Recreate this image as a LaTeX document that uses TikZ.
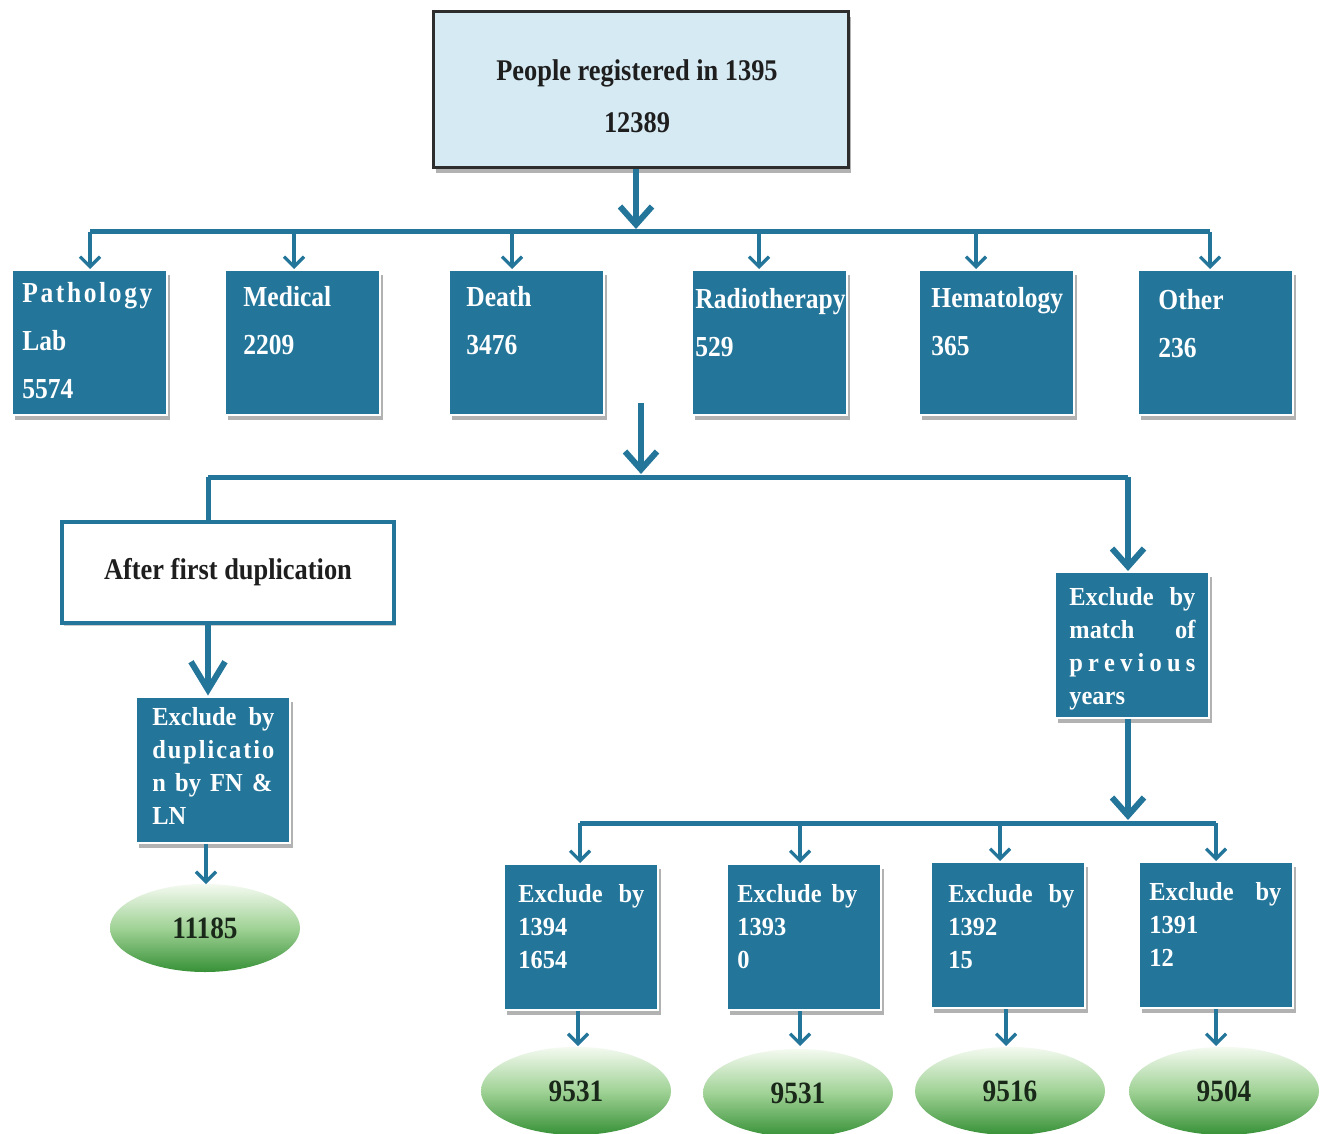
\documentclass[tikz,border=0pt]{standalone}
\usepackage{fontspec}
\setmainfont{Liberation Serif}
\newfontfamily\cond{Liberation Serif}[FakeStretch=0.88]
\newfontfamily\semicond{Liberation Serif}[FakeStretch=0.94]
\usetikzlibrary{arrows.meta,shadows,shapes.geometric}
\definecolor{tealbox}{RGB}{35,117,153}
\definecolor{paleblue}{RGB}{214,234,243}
\definecolor{darkframe}{RGB}{45,45,45}
\definecolor{inkdark}{RGB}{30,30,30}
\definecolor{leafink}{RGB}{25,40,25}
\definecolor{leafpale}{RGB}{244,250,240}
\definecolor{leafmid}{RGB}{160,210,150}
\definecolor{leafgreen}{RGB}{55,145,55}
\newcommand{\fillline}[1]{\makebox[63pt][s]{#1}}
\begin{document}
\begin{tikzpicture}[x=0.5pt,y=-0.5pt,
  shade/.style={drop shadow={shadow xshift=1.5pt,shadow yshift=-2.5pt,opacity=0.3,fill=black}},
  box/.style={draw=white,line width=1pt,fill=tealbox,inner sep=0pt,shade},
  catbox/.style={box,minimum width=77.5pt,minimum height=72.5pt},
  exbox/.style={box,minimum width=77pt,minimum height=73pt},
  cattext/.style={anchor=north west,inner sep=0pt,align=left,text=white,
    font=\cond\bfseries\fontsize{14.5}{24}\selectfont},
  extext/.style={anchor=north west,inner sep=0pt,align=left,text=white,
    font=\semicond\bfseries\fontsize{13}{16.5}\selectfont},
  leaf/.style={ellipse,minimum width=95pt,minimum height=44pt,inner sep=0pt,
    top color=leafpale,bottom color=leafgreen,middle color=leafmid,
    text=leafink,font=\cond\bfseries\fontsize{15.5}{17}\selectfont},
  bus/.style={draw=tealbox,line width=2.5pt},
  tap/.style={draw=tealbox,line width=1.6pt,-{Straight Barb[length=5pt,width=10pt]}},
  bigarrow/.style={draw=tealbox,line width=3pt,-{Straight Barb[length=9pt,width=16pt]}}
]
\useasboundingbox[fill=white] (0,0) rectangle (1322,1134);

% registration total
\node[draw=darkframe,line width=1.5pt,fill=paleblue,minimum width=207.5pt,minimum height=78pt,
  inner sep=0pt,shade] (top) at (640.5,90) {};
\node[align=center,text=inkdark,font=\cond\bfseries\fontsize{15}{26}\selectfont] (toptext) at (637,96)
  {People registered in 1395\\12389};

% sources
\node[catbox] (c1) at (89.5,342.5) {};
\node[catbox] (c2) at (302.5,342.5) {};
\node[catbox] (c3) at (526,342.5) {};
\node[catbox] (c4) at (769.5,342.5) {};
\node[catbox] (c5) at (996.5,342.5) {};
\node[catbox] (c6) at (1215.5,342.5) {};
\node[cattext] (c1t) at (22,282) {\makebox[65pt]{P\hfill a\hfill t\hfill h\hfill o\hfill l\hfill o\hfill g\hfill y}\\Lab\\5574};
\node[cattext] (c2t) at (243,286) {Medical\\2209};
\node[cattext] (c3t) at (466,286) {Death\\3476};
\node[cattext] (c4t) at (695,288) {Radiotherapy\\529};
\node[cattext] (c5t) at (931,287) {Hematology\\365};
\node[cattext] (c6t) at (1158,289) {Other\\236};

% first bus
\coordinate (t1) at (90,232);
\coordinate (t2) at (294,232);
\coordinate (t3) at (512,232);
\coordinate (t4) at (759,232);
\coordinate (t5) at (976,232);
\coordinate (t6) at (1210,232);
\draw[bus] (t1) -- (t6);
\draw[bigarrow] (top.south -| 636,0) -- (636,229);
\foreach \i in {1,...,6} \draw[tap] (t\i) -- (t\i |- c\i.north);

% second bus
\coordinate (m0) at (641,403);
\coordinate (m1) at (641,474);
\coordinate (bl) at (208,477);
\coordinate (br) at (1128,477);
\draw[bigarrow] (m0) -- (m1);
\draw[bus] (bl) -- (br);

% duplication branch
\node[draw=tealbox,line width=2pt,fill=white,minimum width=166pt,minimum height=50.5pt,inner sep=0pt,
  drop shadow={shadow xshift=1pt,shadow yshift=-1.5pt,opacity=0.2,fill=black},
  text=inkdark,font=\cond\bfseries\fontsize{15}{17}\selectfont] (after) at (228,572.5) {After first duplication};
\node[exbox] (dup) at (213,769.5) {};
\node[extext] (dupt) at (152,707) {\makebox[61pt][s]{Exclude by}\\\makebox[61pt]{d\hfill u\hfill p\hfill l\hfill i\hfill c\hfill a\hfill t\hfill i\hfill o}\\\makebox[60pt][s]{n by FN \&}\\LN};
\node[leaf] (e0) at (205,928) {11185};
\draw[bus] (bl) -- (bl |- after.north);
\draw[draw=tealbox,line width=3pt,-{Straight Barb[length=14pt,width=17pt]}] (bl |- after.south) -- (bl |- dup.north);
\draw[tap] (dup.south -| 206,0) -- (206,884);

% previous-years branch
\node[exbox] (match) at (1132,645) {};
\node[extext] (matcht) at (1069,587) {\fillline{Exclude by}\\\fillline{match of}\\\fillline{p r e v i o u s}\\years};
\draw[bigarrow] (br) -- (br |- match.north);

\coordinate (s1) at (580,823);
\coordinate (s2) at (800,823);
\coordinate (s3) at (1000,823);
\coordinate (s4) at (1216,823);
\draw[bigarrow] (br |- match.south) -- (1128,820);
\draw[bus] (s1) -- (s4);

\node[exbox] (x1) at (581,937) {};
\node[exbox] (x2) at (803.5,937) {};
\node[exbox] (x3) at (1007.5,935) {};
\node[exbox] (x4) at (1215.5,935) {};
\node[extext] (x1t) at (518,884) {\fillline{Exclude by}\\1394\\1654};
\node[extext] (x2t) at (737,884) {\makebox[60pt][s]{Exclude by}\\1393\\0};
\node[extext] (x3t) at (948,884) {\fillline{Exclude by}\\1392\\15};
\node[extext] (x4t) at (1149,882) {\makebox[66pt][s]{Exclude by}\\1391\\12};
\foreach \i in {1,...,4} \draw[tap] (s\i) -- (s\i |- x\i.north);

\node[leaf] (e1) at (576,1091) {9531};
\node[leaf] (e2) at (798,1093) {9531};
\node[leaf] (e3) at (1010,1091) {9516};
\node[leaf] (e4) at (1224,1091) {9504};
\draw[tap] (x1.south -| 578,0) -- (578,1046);
\draw[tap] (x2.south -| 800,0) -- (800,1046);
\draw[tap] (x3.south -| 1006,0) -- (1006,1046);
\draw[tap] (x4.south -| 1216,0) -- (1216,1046);
\end{tikzpicture}
\end{document}
